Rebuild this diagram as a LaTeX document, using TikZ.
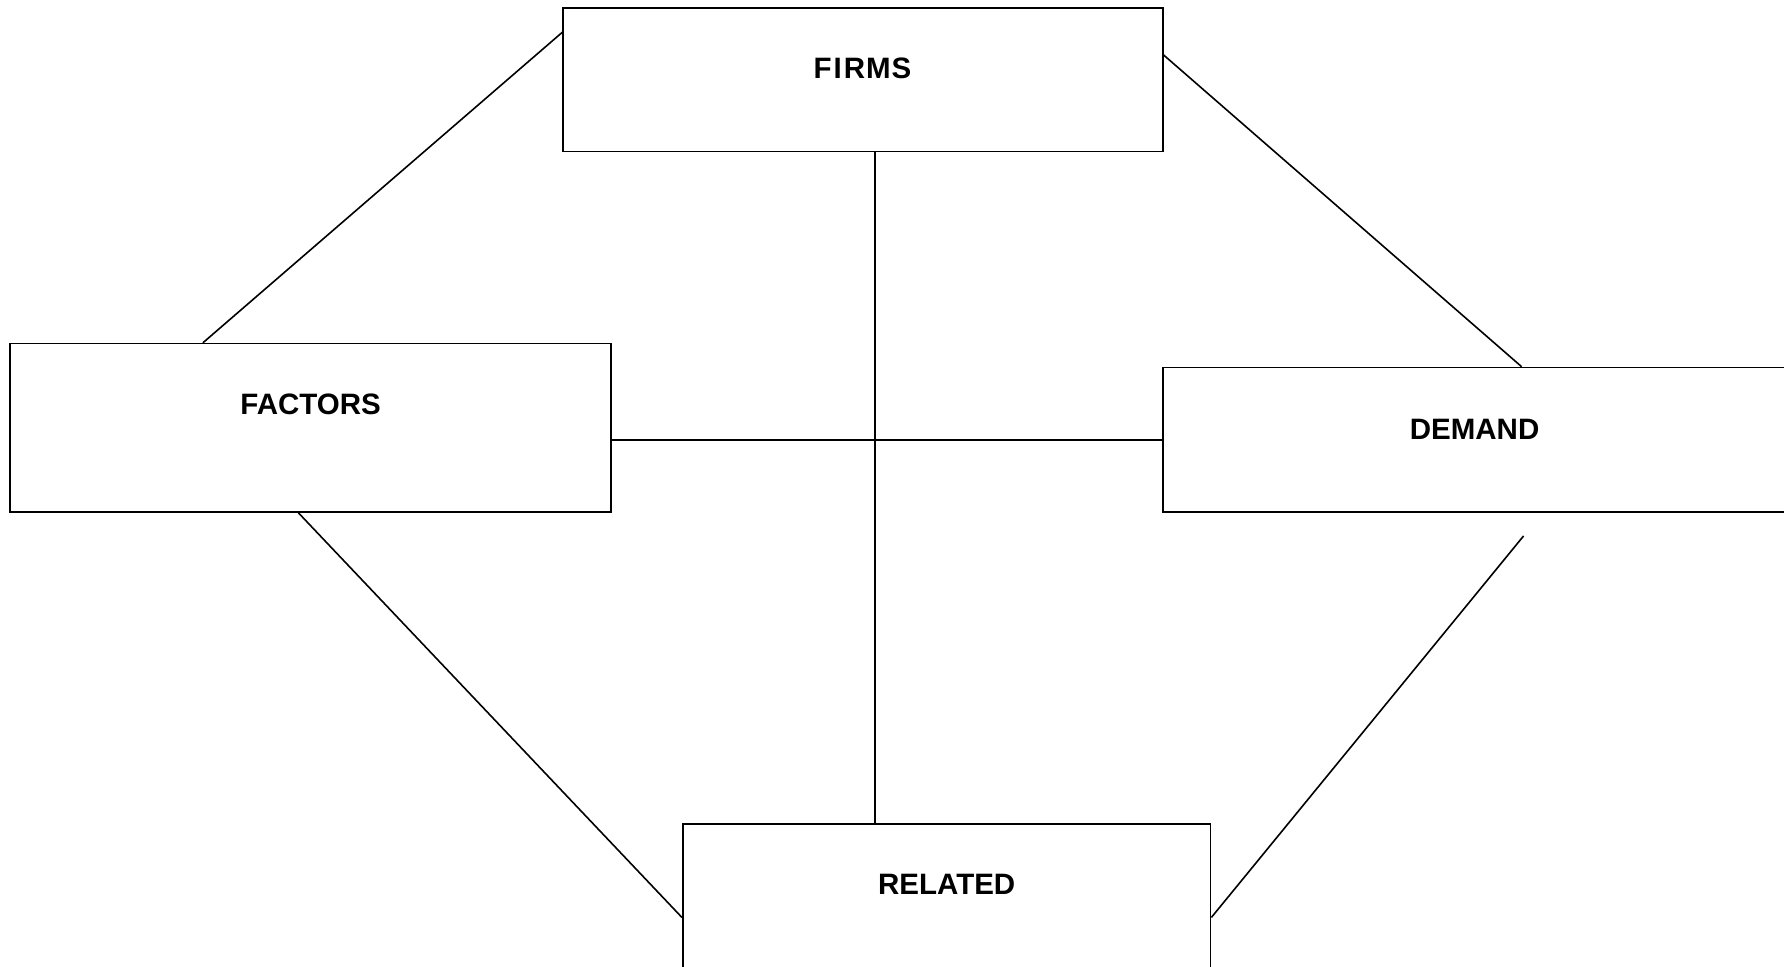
\documentclass[tikz,border=0pt]{standalone}
\usepackage{fontspec}
\setmainfont{Liberation Sans}
\usetikzlibrary{calc}
\begin{document}
\begin{tikzpicture}[x=1pt,y=-1pt,
  box/.style={draw=black,line width=1.6pt,minimum width=#1,inner sep=0pt,fill=none},
  lbl/.style={font=\fontsize{29.5}{33}\selectfont\bfseries,inner sep=0pt},
  conn/.style={draw=black,line width=1.6pt}]
\useasboundingbox (0,0) rectangle (1784,966);
\clip (0,0) rectangle (1784,966);
% boxes
\node[box=599.6pt,minimum height=143.3pt] (firms) at (863,79.65) {};
\node[box=600.8pt,minimum height=168.4pt] (factors) at (310.6,427.8) {};
\node[box=623.6pt,minimum height=144.5pt] (demand) at (1474.6,439.75) {};
\node[box=527.9pt,minimum height=150pt] (related) at (946.65,898.8) {};
% labels
\node[lbl] (tfirms) at (862.5,68.3) {F\kern2pt I\kern2pt R\kern1pt M\kern1pt S};
\node[lbl] (tfactors) at (310.6,403.9) {FACTORS};
\node[lbl] (tdemand) at (1474.6,429) {DEMAND};
\node[lbl] (trelated) at (946.7,884.1) {RELATED};
% helper coordinates
\coordinate (vx) at (875,0);
\coordinate (dfree) at (1523.6,535.9);
% connectors
\draw[conn] (firms.south -| vx) -- (related.north -| vx);
\draw[conn] (factors.east |- demand.west) -- (demand.west);
\draw[conn] ([yshift=-25pt]firms.north west) -- ([xshift=193.5pt]factors.north west);
\draw[conn] ([yshift=-47.8pt]firms.north east) -- ([xshift=359.6pt]demand.north west);
\draw[conn] ([xshift=289pt]factors.south west) -- ([yshift=-94.4pt]related.north west);
\draw[conn] (dfree) -- ([yshift=-94.4pt]related.north east);
\end{tikzpicture}
\end{document}
